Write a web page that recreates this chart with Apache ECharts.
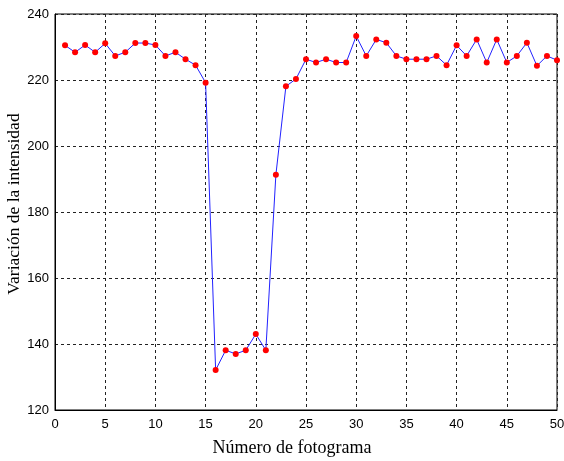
<!DOCTYPE html>
<html>
<head>
<meta charset="utf-8">
<script src="https://cdn.jsdelivr.net/npm/echarts@6/dist/echarts.min.js"></script>
<style>
  html, body { margin: 0; padding: 0; background: #fff; }
</style>
</head>
<body>
<div id="chart" style="width:564px;height:461px;"></div>
<script>
// frame numbers 1..50
const frames = [1,2,3,4,5,6,7,8,9,10,11,12,13,14,15,16,17,18,19,20,
  21,22,23,24,25,26,27,28,29,30,31,32,33,34,35,36,37,38,39,40,
  41,42,43,44,45,46,47,48,49,50];
const intensity = [230.5,228.4,230.6,228.4,231.1,227.3,228.4,231.2,231.2,230.6,
  227.3,228.4,226.3,224.5,219.2,132.1,138.1,137.0,138.1,143.0,
  138.1,191.3,218.1,220.3,226.3,225.3,226.3,225.3,225.3,233.3,
  227.3,232.3,231.3,227.3,226.3,226.3,226.3,227.3,224.5,230.5,
  227.3,232.3,225.3,232.3,225.3,227.3,231.3,224.3,227.3,226.0];
const xTitle = "Número de fotograma";
const yTitle = "Variación de la intensidad";

const chart = echarts.init(document.getElementById("chart"));
const tickFont = { color: "#000", fontFamily: "Liberation Sans", fontSize: 13 };
const gridLine = { show: true, lineStyle: { color: "#222", type: [3, 3], width: 1 } };

chart.setOption({
  backgroundColor: "#fff",
  animation: false,
  grid: {
    left: 55, top: 14, right: 7, bottom: 51,
    outerBoundsMode: "none",
    show: true, borderColor: "#000", borderWidth: 1
  },
  // axis titles placed by hand, they sit a bit off-centre in the original
  graphic: [
    {
      type: "text", x: 292, y: 448,
      style: { text: xTitle, align: "center", verticalAlign: "middle",
        fill: "#000", fontFamily: "Liberation Serif", fontSize: 18 }
    },
    {
      type: "text", x: 14, y: 204, rotation: Math.PI / 2,
      style: { text: yTitle, align: "center", verticalAlign: "middle",
        fill: "#000", fontFamily: "Liberation Serif", fontSize: 17.5 }
    }
  ],
  xAxis: {
    type: "value",
    min: 0, max: 50, interval: 5,
    axisLine: { show: true, lineStyle: { color: "#000" } },
    axisTick: { show: false },
    axisLabel: Object.assign({ margin: 8 }, tickFont),
    splitLine: gridLine
  },
  yAxis: {
    type: "value",
    min: 120, max: 240, interval: 20,
    axisLine: { show: true, lineStyle: { color: "#000" } },
    axisTick: { show: false },
    axisLabel: Object.assign({ margin: 6 }, tickFont),
    splitLine: gridLine
  },
  series: [{
    type: "line",
    data: frames.map((f, i) => [f, intensity[i]]),
    lineStyle: { color: "#2222ff", width: 1 },
    symbol: "circle",
    symbolSize: 6,
    itemStyle: { color: "#ff0000", borderWidth: 0 },
    showSymbol: true
  }]
});
</script>
</body>
</html>
